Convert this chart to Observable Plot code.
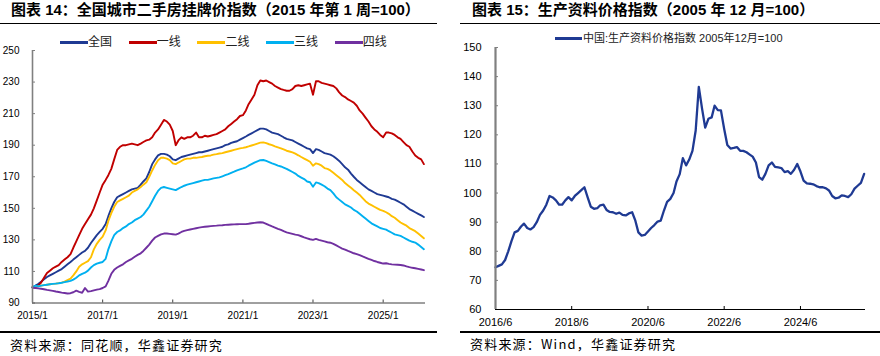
<!DOCTYPE html>
<html>
<head>
<meta charset="utf-8">
<script src="https://cdn.jsdelivr.net/npm/d3@7"></script>
<script src="https://cdn.jsdelivr.net/npm/@observablehq/plot@0.6"></script>
<style>
  body { margin: 0; background: #fff; }
  #wrap { position: relative; width: 880px; height: 356px; overflow: hidden; font-family: "Liberation Sans", Arial, "Noto Sans CJK SC", sans-serif; }
  .title { position: absolute; top: 1px; font-weight: bold; font-size: 15px; line-height: 18px; white-space: nowrap; color: #000; font-family: "Liberation Sans", Arial, "Noto Sans CJK SC", sans-serif; }
  .hr { position: absolute; height: 1.5px; background: #000; }
  .src { position: absolute; font-size: 13px; line-height: 16px; letter-spacing: 1.2px; white-space: nowrap; color: #000; font-family: "Noto Sans CJK SC", sans-serif; }
  .leg { position: absolute; font-size: 12px; line-height: 14px; white-space: nowrap; color: #222; font-family: "Liberation Sans", Arial, "Noto Sans CJK SC", sans-serif; }
  .sw { position: absolute; height: 3px; }
  .plot { position: absolute; top: 0; }
</style>
</head>
<body>
<div id="wrap">
  <div class="title" style="left:11px;">图表 14：全国城市二手房挂牌价指数（2015 年第 1 周=100）</div>
  <div class="title" style="left:472px;">图表 15：生产资料价格指数（2005 年 12 月=100）</div>
  <div class="hr" style="left:0; width:437px; top:22.5px;"></div>
  <div class="hr" style="left:460px; width:420px; top:22.5px;"></div>
  <div id="legL"></div>
  <div id="legR"></div>
  <div class="plot" id="pL" style="left:0;"></div>
  <div class="plot" id="pR" style="left:440px;"></div>
  <div class="hr" style="left:0; width:437px; top:331px;"></div>
  <div class="hr" style="left:460px; width:420px; top:331px;"></div>
  <div class="src" style="left:10px; top:337px;">资料来源：同花顺，华鑫证券研究</div>
  <div class="src" style="left:470px; top:336px;">资料来源：Wind，华鑫证券研究</div>
</div>
<script>
// ---------- Left chart data: 全国城市二手房挂牌价指数 (monthly, 2015/1 – 2026/3) ----------
const leftSeriesNames = ["全国", "一线", "二线", "三线", "四线"];
const leftColors = ["#1F3A93", "#C00000", "#FFC000", "#00B0F0", "#7030A0"];
const leftYTicks = [90, 110, 130, 150, 170, 190, 210, 230, 250];
const leftXTickLabels = ["2015/1", "2017/1", "2019/1", "2021/1", "2023/1", "2025/1"];

const national = [
  100, 101, 102, 103.5, 105, 106.5, 107.5, 108.5, 109.5, 110.5, 111.5, 113,
  114.5, 116, 117.5, 119, 120.5, 122, 123, 125, 128, 130.5, 133, 135,
  137, 140, 145, 150, 154, 157, 158, 159, 160, 161, 162, 162.5,
  163, 165, 167, 169, 173, 178, 181, 183.5, 184.5, 184.5, 184, 183,
  181, 180.5, 181.5, 182.5, 183, 183.5, 184, 184.5, 185, 185.5, 185.5, 186,
  186.5, 187, 187.5, 188, 188.5, 189, 190, 190.5, 191.5, 192, 192.5, 193.5,
  194.5, 195.5, 196.5, 197.5, 198.5, 199.5, 200.5, 200.5, 200, 199, 198, 197.5,
  197, 196, 195, 194, 193.5, 193, 192, 191, 190, 189, 188, 187.5,
  185, 187.5, 187, 186, 185, 184.5, 184, 183, 181.5, 180, 178, 176,
  174.5, 172, 170, 168, 166.5, 165, 163.5, 162, 161, 160, 159, 158.5,
  158, 157.5, 157, 156, 155.5, 154.5, 153.5, 152.5, 151, 149.5, 148.5, 147.5,
  146.5, 145.5, 144.5
];
const tier1 = [
  100, 100, 101, 103, 106, 109, 110.5, 112, 113, 114, 116, 117.5,
  119, 121, 125, 129, 133, 137, 140, 143, 146, 150, 155, 160,
  165, 168, 171, 175, 181, 187, 189, 190, 190, 190.5, 191, 190.5,
  190, 191, 192, 193, 193.5, 195, 198, 200, 203, 206, 205, 203,
  199, 190, 193, 195, 194, 195, 195, 196, 198, 195, 195, 196,
  195.5, 196, 196.5, 197, 198, 199, 200, 202, 203.5, 205, 206.5, 208.5,
  209, 212, 216, 219, 222, 228, 231, 230.5, 231, 230, 229, 227.5,
  226.5, 225.5, 225, 224.5, 224.5, 225.5, 227.5, 228, 227.5, 228, 228.5, 229,
  222, 230.5, 230.5, 229.5, 229, 228.5, 228, 227.5, 226, 223.5, 221.5, 220.5,
  219, 218, 217, 215, 212, 210, 207.5, 205, 202, 200, 198.5, 196.5,
  195, 198, 198, 197.5, 196.5, 195, 194, 192, 190, 189, 186, 183.5,
  182, 181, 178
];
const tier2 = [
  100, 100.3, 100.6, 101, 101.3, 101.6, 101.9, 102.1, 102.3, 102.6, 102.9, 103.5,
  104.5, 105.5, 107.5, 110, 113, 114.5, 115.5, 116.5, 119, 124, 127.5, 130,
  132, 136, 142, 147, 151, 154, 155, 156, 157, 158, 160, 161,
  162, 163.5, 165, 166.5, 170, 174, 177.5, 180.5, 182, 182, 181.5, 180.5,
  178.5, 178, 179, 180, 181, 181.5, 181.5, 182, 182, 182.3, 182.5, 183,
  183.3, 183.5, 184, 184.3, 184.7, 185, 185.5, 186, 186.5, 187, 187.5, 188,
  188.3, 188.7, 189.2, 189.8, 190.4, 191, 191.6, 191.8, 191.3, 190.6, 190, 189.2,
  188.6, 188, 187.3, 186.5, 186, 185.4, 184.6, 183.6, 182.5, 181.5, 180.5, 179.5,
  177, 178.5, 178, 177, 175.5, 175, 174, 172.5, 171, 169.5, 168, 166,
  164.5, 163, 161.5, 160, 158.5, 156.5, 154.5, 153, 152, 151, 150, 149,
  148.4, 147.5, 146.5, 145, 144, 142.5, 141, 140, 139, 137.5, 136.5, 135.5,
  134, 132.5, 131
];
const tier3 = [
  100, 101, 100.5, 101, 101.3, 101.6, 101.9, 102.1, 102.3, 102.5, 102.8, 103.2,
  103.6, 104, 104.8, 106, 107.5, 108.5, 109.2, 110.5, 112.5, 114, 115, 115.5,
  116, 118, 124, 129, 133, 135, 136, 137.5, 138.5, 140, 141, 142.5,
  143.5, 144.5, 146, 148.5, 151, 154.5, 158, 161, 163, 163.5, 163, 162.5,
  162, 161.5, 162.5, 163.5, 164.3, 165, 165.5, 166, 166.5, 167, 167.5, 168,
  168, 168.5, 169, 169.3, 169.6, 170.3, 171, 171.7, 172.5, 173.2, 174, 174.7,
  175.3, 176, 177, 178, 179, 179.8, 180.5, 180.6, 180, 179.3, 178.5, 177.8,
  177, 176.5, 175.8, 175, 174, 173, 172, 170.5, 169.5, 168.5, 167, 166.5,
  163.7, 166.4, 166, 165, 164, 162.5, 161.5, 159.5, 157, 155.5, 154, 152.5,
  151.5, 150.5, 149, 148, 146.5, 145, 143.5, 142, 140.5, 139.5, 138.5, 137.5,
  137, 136.5, 135.5, 134.5, 133.5, 133, 132.5, 131.5, 130.5, 129.5, 128.8, 128.3,
  127, 125.5, 124.1
];
const tier4 = [
  99.7, 99.5, 99.3, 99, 98.7, 98.3, 98, 97.7, 97.3, 97, 96.6, 96.3,
  96, 96.2, 96.8, 97.8, 97, 96.5, 99.5, 97.2, 97.5, 98, 98.5, 98.8,
  99.5, 100.5, 104, 108.5, 111, 112.5, 113.5, 114.5, 116, 117, 118, 119.3,
  120.5, 121.5, 123, 125, 127, 129.5, 131.5, 132.5, 133.5, 134, 134, 133.8,
  133.6, 133.3, 134, 135, 135.7, 136.2, 136.6, 137, 137.4, 137.8, 138.1, 138.3,
  138.5, 138.7, 138.9, 139, 139.2, 139.3, 139.5, 139.6, 139.7, 139.8, 139.9, 140,
  140, 140, 140.2, 140.5, 140.8, 141, 141.2, 141, 140.2, 139.3, 138.5, 137.8,
  137, 136.3, 135.5, 134.8, 134.3, 133.8, 133.3, 133, 132.3, 131.6, 131, 130.4,
  130, 130.6, 130, 129.5, 129, 128.5, 128.2, 127.5, 126.5, 125.5, 124.5, 123.8,
  123, 122.3, 121.5, 121, 120.3, 119.5, 118.8, 118, 117.3, 116.6, 116, 115.5,
  115, 115.2, 114.8, 114.5, 114.3, 114.2, 114.1, 113.8, 113.2, 112.7, 112.3, 112,
  111.6, 111.2, 110.8
];

// ---------- Right chart data: 生产资料价格指数 (monthly, 2016/6 – 2026/2) ----------
const rightSeriesName = "中国:生产资料价格指数 2005年12月=100";
const rightColor = "#1F3A93";
const rightYTicks = [60, 70, 80, 90, 100, 110, 120, 130, 140, 150];
const rightXTickLabels = ["2016/6", "2018/6", "2020/6", "2022/6", "2024/6"];
const producerIndex = [
  74.5, 75, 75.5, 77, 80, 83.5, 86.5,
  87, 88.5, 89.5, 88, 87.5, 88.3, 90, 92.5, 94, 96, 99, 98.5,
  97.5, 96, 96, 97.5, 98.6, 97.5, 99, 100, 101, 102, 98.5, 95.3,
  94.6, 94.8, 95.8, 96, 94.2, 93.5, 93.4, 92.9, 93.3, 92.5, 92.3, 93,
  93.4, 90.5, 86.5, 85.4, 85.6, 86.8, 88, 89, 90.2, 90.5, 94, 97,
  98, 100, 104, 106.5, 112, 109.5, 111.5, 114.5, 121.5, 136.5, 129, 122.5,
  125.5, 126, 130, 128.5, 128.4, 122, 116.5, 115.3, 115.5, 115.8, 114.5, 114.5,
  114, 113.2, 112.5, 110.5, 105.5, 104.6, 106.6, 109.5, 110.5, 109, 108.8, 108.6,
  107.2, 107.5, 106.6, 108, 110, 107.4, 104.3, 103.3, 103.2, 103, 102.4, 102,
  102, 101.6, 100.9, 99, 98.2, 98.4, 99.2, 99, 98.6, 99.6, 101.5, 102.5,
  103.5, 106.6
];

// ---------- build ----------
const parseLabel = s => { const [y, m] = s.split("/").map(Number); return new Date(Date.UTC(y, m - 1, 1)); };
const fmtLabel = d => `${d.getUTCFullYear()}/${d.getUTCMonth() + 1}`;

const leftMonths = d3.utcMonth.range(new Date(Date.UTC(2015, 0, 1)), new Date(Date.UTC(2015, 0, 1) + 0), 1);
const leftStart = new Date(Date.UTC(2015, 0, 1));
const leftDates = d3.utcMonth.range(leftStart, d3.utcMonth.offset(leftStart, national.length));
const leftValues = [national, tier1, tier2, tier3, tier4];
const leftRows = leftValues.flatMap((arr, i) => arr.map((v, j) => ({date: leftDates[j], value: v, series: leftSeriesNames[i]})));

const rightStart = new Date(Date.UTC(2016, 5, 1));
const rightDates = d3.utcMonth.range(rightStart, d3.utcMonth.offset(rightStart, producerIndex.length));
const rightRows = producerIndex.map((v, j) => ({date: rightDates[j], value: v}));

const leftXDomain = [leftStart, new Date(Date.UTC(2026, 2, 18))];
const leftYDomain = [leftYTicks[0], leftYTicks[leftYTicks.length - 1]];
const rightXDomain = [rightStart, new Date(Date.UTC(2026, 1, 14))];
const rightYDomain = [rightYTicks[0], rightYTicks[rightYTicks.length - 1]];

const axisStyle = {fontFamily: "'Liberation Sans', Arial, sans-serif", color: "#000", background: "transparent", overflow: "visible"};

const leftPlot = Plot.plot({
  width: 440, height: 330,
  marginLeft: 32, marginRight: 15, marginTop: 50, marginBottom: 27.5,
  style: {...axisStyle, fontSize: "10px"},
  x: {type: "utc", domain: leftXDomain},
  y: {domain: leftYDomain},
  color: {domain: leftSeriesNames, range: leftColors},
  marks: [
    Plot.axisY({ticks: leftYTicks, tickSize: -3, tickPadding: 16, stroke: "#808080", fill: "#000", label: null, fontSize: 10}),
    Plot.axisX({ticks: leftXTickLabels.map(parseLabel), tickFormat: fmtLabel, tickSize: -3, tickPadding: 12, stroke: "#404040", fill: "#000", label: null, fontSize: 10}),
    Plot.line(leftRows, {x: "date", y: "value", z: "series", stroke: "series", strokeWidth: 1.9, curve: "linear"}),
    Plot.ruleY([leftYDomain[0]], {stroke: "#404040", strokeWidth: 1}),
    Plot.ruleX([leftXDomain[0]], {stroke: "#808080", strokeWidth: 1.6})
  ]
});
document.getElementById("pL").appendChild(leftPlot);

const rightPlot = Plot.plot({
  width: 440, height: 330,
  marginLeft: 55, marginRight: 15, marginTop: 47, marginBottom: 21,
  style: {...axisStyle, fontSize: "11px"},
  x: {type: "utc", domain: rightXDomain},
  y: {domain: rightYDomain},
  marks: [
    Plot.axisY({ticks: rightYTicks, tickSize: -3, tickPadding: 17, stroke: "#808080", fill: "#000", label: null, fontSize: 11}),
    Plot.axisX({ticks: rightXTickLabels.map(parseLabel), tickFormat: fmtLabel, tickSize: -3, tickPadding: 12, stroke: "#000", fill: "#000", label: null, fontSize: 11}),
    Plot.line(rightRows, {x: "date", y: "value", stroke: rightColor, strokeWidth: 2.3}),
    Plot.ruleY([rightYDomain[0]], {stroke: "#000", strokeWidth: 1}),
    Plot.ruleX([rightXDomain[0]], {stroke: "#808080", strokeWidth: 2.2})
  ]
});
document.getElementById("pR").appendChild(rightPlot);

// ---------- legends ----------
const legL = document.getElementById("legL");
leftSeriesNames.forEach((name, i) => {
  const x0 = 60 + i * 68.7;
  const sw = document.createElement("div");
  sw.className = "sw";
  sw.style.cssText = `left:${x0}px; top:40.5px; width:28px; background:${leftColors[i]};`;
  legL.appendChild(sw);
  const t = document.createElement("div");
  t.className = "leg";
  t.style.cssText = `left:${x0 + 28}px; top:35px;`;
  t.textContent = name;
  legL.appendChild(t);
});
const legR = document.getElementById("legR");
{
  const sw = document.createElement("div");
  sw.className = "sw";
  sw.style.cssText = `left:555px; top:36.5px; width:27px; background:${rightColor};`;
  legR.appendChild(sw);
  const t = document.createElement("div");
  t.className = "leg";
  t.style.cssText = `left:583px; top:31px; font-size:11px; color:#222;`;
  t.textContent = rightSeriesName;
  legR.appendChild(t);
}
</script>
</body>
</html>
